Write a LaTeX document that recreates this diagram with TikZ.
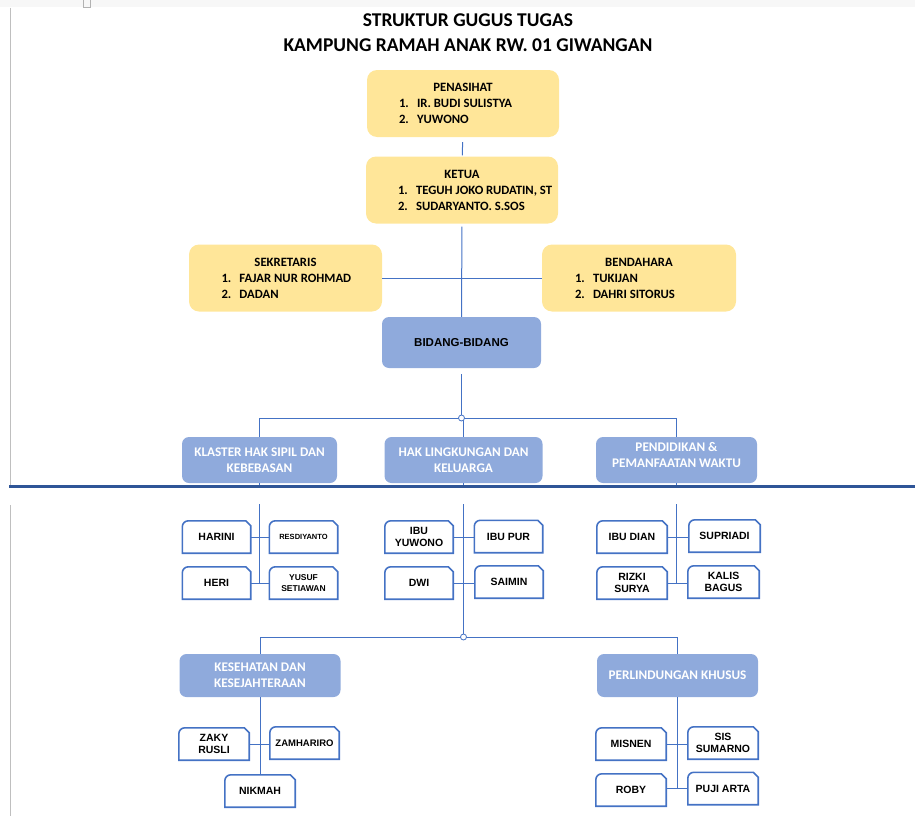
\documentclass[tikz,border=0pt]{standalone}
\usepackage{fontspec}
\setmainfont{Carlito}
\newfontfamily\arialfont{Liberation Sans}
\definecolor{kuning}{HTML}{FFE699}
\definecolor{birumuda}{HTML}{8FAADC}
\definecolor{garis}{HTML}{4472C4}
\definecolor{halaman}{HTML}{2F5597}
\newcommand{\rowitem}[2]{\makebox[192pt][l]{\hspace*{32pt}\makebox[18pt][l]{#1}#2}}

\begin{document}
\begin{tikzpicture}[
        x=1pt, y=-1pt,
        pengurus/.style={rounded corners=10pt, fill=kuning, minimum width=192pt, minimum height=67pt,
            inner sep=0pt, align=center, font=\bfseries\fontsize{12.7}{16}\selectfont},
        bidang/.style={rounded corners=7pt, fill=birumuda, inner sep=2pt, align=center, text=white,
            font=\bfseries\fontsize{13.2}{16}\selectfont},
        anggota/.style={minimum width=68pt, minimum height=32pt, inner sep=1pt, align=center,
            font=\arialfont\bfseries\fontsize{10.5}{12}\selectfont,
            append after command={\pgfextra{\draw[garis, line width=1.6pt]
                (\tikzlastnode.south west) -- ([yshift=-6pt]\tikzlastnode.north west)
                arc[start angle=180, end angle=90, radius=6pt]
                -- ([xshift=-5pt]\tikzlastnode.north east) -- ([yshift=-5pt]\tikzlastnode.north east)
                -- (\tikzlastnode.south east) -- cycle;}}},
        link/.style={draw=garis, line width=1pt},
        titik/.style={circle, draw=garis, fill=white, line width=0.8pt, minimum size=6pt, inner sep=0pt}
    ]
        \useasboundingbox (0,0) rectangle (915,816);
        \fill[black!3] (0,0) rectangle (915,7);
        \draw[black!30, line width=0.6pt] (83.5,0) |- (90,7) -- (90,0);
        \draw[black!25, line width=0.8pt] (10,8) -- (10,486);
        \draw[black!25, line width=0.8pt] (10,505) -- (10,816);

        % Judul
        \node[font=\bfseries\fontsize{19.5}{25}\selectfont, align=center] (judul) at (468,33)
            {STRUKTUR GUGUS TUGAS\\KAMPUNG RAMAH ANAK RW. 01 GIWANGAN};

        % Pengurus inti
        \node[pengurus] (penasihat) at (463,103.5)
            {PENASIHAT\\\rowitem{1.}{IR. BUDI SULISTYA}\\\rowitem{2.}{YUWONO}};
        \node[pengurus] (ketua) at (462,190)
            {KETUA\\\rowitem{1.}{TEGUH JOKO RUDATIN, ST}\\\rowitem{2.}{SUDARYANTO. S.SOS}};
        \node[pengurus, minimum width=193pt] (sekretaris) at (285.5,278)
            {SEKRETARIS\\\rowitem{1.}{FAJAR NUR ROHMAD}\\\rowitem{2.}{DADAN}};
        \node[pengurus, minimum width=194pt] (bendahara) at (639,278)
            {BENDAHARA\\\rowitem{1.}{TUKIJAN}\\\rowitem{2.}{DAHRI SITORUS}};
        \node[bidang, minimum width=159pt, minimum height=51pt, text=black,
            font=\arialfont\bfseries\fontsize{11.5}{14}\selectfont] (bidangbidang) at (461.5,342.5) {BIDANG-BIDANG};

        % Bidang
        \node[bidang, minimum width=155pt, minimum height=46pt] (klaster) at (259.5,460)
            {KLASTER HAK SIPIL DAN\\KEBEBASAN};
        \node[bidang, minimum width=158pt, minimum height=46pt] (lingkungan) at (463.5,460)
            {HAK LINGKUNGAN DAN\\KELUARGA};
        \node[bidang, minimum width=161pt, minimum height=46pt] (pendidikan) at (676.5,460)
            {PENDIDIKAN \&\\PEMANFAATAN WAKTU\\[-6pt]\mbox{}};
        \node[bidang, minimum width=161pt, minimum height=43pt] (kesehatan) at (260,675.5)
            {KESEHATAN DAN\\KESEJAHTERAAN};
        \node[bidang, minimum width=161pt, minimum height=43pt] (perlindungan) at (677.5,675.5)
            {PERLINDUNGAN KHUSUS};

        % Anggota
        \node[anggota] (harini) at (216.5,537) {HARINI};
        \node[anggota, font=\arialfont\bfseries\fontsize{7.5}{9}\selectfont] (resdiyanto) at (303.5,537) {RESDIYANTO};
        \node[anggota] (heri) at (216.5,583) {HERI};
        \node[anggota, font=\arialfont\bfseries\fontsize{8.5}{11}\selectfont] (yusuf) at (303.5,583) {YUSUF\\SETIAWAN};
        \node[anggota] (ibuyuwono) at (419,537) {IBU\\YUWONO};
        \node[anggota] (ibupur) at (508.5,536.5) {IBU PUR};
        \node[anggota] (dwi) at (419,583) {DWI};
        \node[anggota] (saimin) at (509,582) {SAIMIN};
        \node[anggota, minimum width=70pt] (ibudian) at (632,537) {IBU DIAN};
        \node[anggota, minimum width=71pt] (supriadi) at (724.5,536) {SUPRIADI};
        \node[anggota, minimum width=70pt] (rizki) at (632,583) {RIZKI\\SURYA};
        \node[anggota, minimum width=71pt] (kalis) at (723.5,582) {KALIS\\BAGUS};
        \node[anggota, minimum width=70pt] (zaky) at (214,744) {ZAKY\\RUSLI};
        \node[anggota, minimum width=69pt, font=\arialfont\bfseries\fontsize{9.5}{11}\selectfont] (zamhariro) at (304.5,743) {ZAMHARIRO};
        \node[anggota, minimum width=70pt] (nikmah) at (260,791) {NIKMAH};
        \node[anggota, minimum width=70pt] (misnen) at (631,744) {MISNEN};
        \node[anggota, minimum width=70pt] (sis) at (723,743) {SIS\\SUMARNO};
        \node[anggota, minimum width=70pt] (roby) at (631,790) {ROBY};
        \node[anggota, minimum width=70pt] (puji) at (723,788.5) {PUJI ARTA};

        % Garis penghubung
        \coordinate (cabang) at (461.5,418);
        \coordinate (simpul) at (463.5,637);
        \draw[link, shorten <=5pt, shorten >=1pt] (penasihat) -- (ketua);
        \draw[link, shorten <=3pt] (ketua) -- (bidangbidang);
        \draw[link] (sekretaris) -- (bendahara);
        \draw[link, shorten <=6pt] (bidangbidang) -- (cabang);
        \draw[link] (cabang) -| (klaster);
        \draw[link] (cabang) -| (lingkungan);
        \draw[link] (cabang) -| (pendidikan);
        \node[titik] (titik1) at (cabang) {};

        \draw[link] (klaster) -- (klaster |- heri);
        \draw[link] (harini) -- (harini -| resdiyanto.west);
        \draw[link] (heri) -- (heri -| yusuf.west);
        \draw[link] (lingkungan) -- (simpul);
        \draw[link] (ibuyuwono) -- (ibuyuwono -| ibupur.west);
        \draw[link] (dwi) -- (dwi -| saimin.west);
        \draw[link] (pendidikan) -- (pendidikan |- rizki);
        \draw[link] (ibudian) -- (ibudian -| supriadi.west);
        \draw[link] (rizki) -- (rizki -| kalis.west);

        \draw[link] (simpul) -| (kesehatan);
        \draw[link] (simpul) -| (perlindungan);
        \node[titik] (titik2) at (simpul) {};
        \draw[link] (kesehatan) -- (nikmah);
        \draw[link] (zaky) -- (zaky -| zamhariro.west);
        \draw[link] (perlindungan) -- (perlindungan |- puji);
        \draw[link] (misnen) -- (misnen -| sis.west);
        \draw[link] (roby.east |- puji) -- (puji);

        % Batas halaman
        \fill[white] (0,487.5) rectangle (915,504);
        \draw[halaman, line width=3pt] (9,486) -- (915,486);
    \end{tikzpicture}
\end{document}
